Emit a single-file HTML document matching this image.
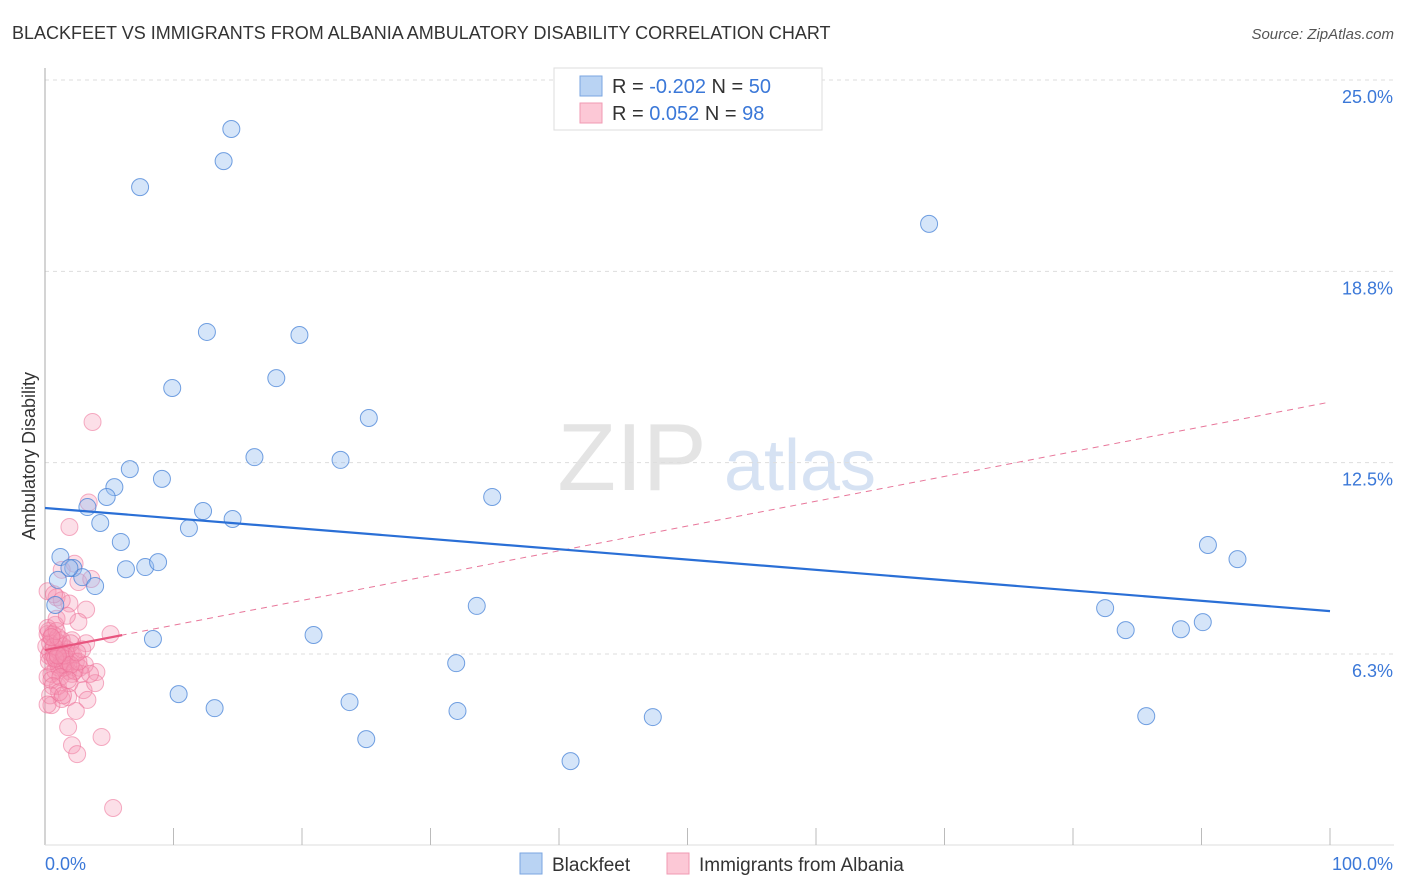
<!DOCTYPE html>
<html><head><meta charset="utf-8"><style>
html,body{margin:0;padding:0;background:#fff;width:1406px;height:892px;overflow:hidden;font-family:"Liberation Sans",sans-serif}
svg text{font-family:"Liberation Sans",sans-serif}
</style></head><body>
<svg id="chart" width="1406" height="892" xmlns="http://www.w3.org/2000/svg">
<text x="12" y="39" font-size="18" fill="#333">BLACKFEET VS IMMIGRANTS FROM ALBANIA AMBULATORY DISABILITY CORRELATION CHART</text>
<text x="1394" y="39" font-size="15" fill="#555" font-style="italic" text-anchor="end">Source: ZipAtlas.com</text>
<g>
<text x="632" y="490" font-size="96" fill="#e4e4e4" font-family="Liberation Serif" text-anchor="middle">ZIP</text>
<text x="800" y="490" font-size="72" fill="#d6e2f3" text-anchor="middle">atlas</text>
</g>
<g id="grid"></g>
<g id="axes"></g>
<g id="trends"></g>
<g id="points"></g>
<text transform="translate(35,456) rotate(-90)" font-size="18" fill="#333" text-anchor="middle">Ambulatory Disability</text>
<g>
<rect x="554" y="68" width="268" height="62" fill="#fff" stroke="#ddd"/>
<rect x="580" y="76" width="22" height="20" fill="#b9d3f3" stroke="#7aa6e0"/>
<rect x="580" y="103" width="22" height="20" fill="#fcc8d6" stroke="#f09ab3"/>
<text x="612" y="93" font-size="20" fill="#333">R = <tspan fill="#3b78d8">-0.202</tspan>   N = <tspan fill="#3b78d8">50</tspan></text>
<text x="612" y="120" font-size="20" fill="#333">R =  <tspan fill="#3b78d8">0.052</tspan>   N = <tspan fill="#3b78d8">98</tspan></text>
</g>
<g>
<rect x="520" y="853" width="22" height="21" fill="#b9d3f3" stroke="#7aa6e0"/>
<text x="552" y="871" font-size="19" fill="#333">Blackfeet</text>
<rect x="667" y="853" width="22" height="21" fill="#fcc8d6" stroke="#f09ab3"/>
<text x="699" y="871" font-size="19" fill="#333">Immigrants from Albania</text>
</g>
</svg>
<script>
const yTicks=[6.3,12.5,18.8,25.0];
const yTickLabels=["6.3%","12.5%","18.8%","25.0%"];
const xTicks=[0,10,20,30,40,50,60,70,80,90,100];
const xEndLabels=["0.0%","100.0%"];
const blueX=[7.4,13.9,14.5,68.8,12.6,19.8,18.0,9.9,25.2,16.3,23.0,6.6,9.1,5.4,4.8,3.3,34.8,12.3,14.6,4.3,11.2,5.9,1.2,2.2,6.3,7.8,8.8,2.9,3.9,90.5,92.8,33.6,82.5,84.1,88.4,90.1,20.9,8.4,32.0,10.4,13.2,23.7,32.1,47.3,85.7,25.0,40.9,1.9,0.8,1.0];
const blueY=[21.5,22.35,23.4,20.3,16.77,16.67,15.26,14.94,13.96,12.68,12.59,12.29,11.97,11.70,11.38,11.05,11.38,10.92,10.66,10.53,10.36,9.91,9.42,9.06,9.02,9.09,9.25,8.76,8.47,9.81,9.35,7.82,7.75,7.03,7.06,7.29,6.87,6.74,5.95,4.94,4.48,4.68,4.39,4.19,4.22,3.47,2.75,9.06,7.85,8.67];
const pinkX=[3.7,3.4,1.9,2.3,1.3,2.6,0.2,0.9,1.9,3.2,0.8,2.6,5.1,2.1,3.2,4.0,3.0,3.3,1.8,2.4,1.3,0.5,1.8,4.4,2.1,2.5,5.3,3.9,1.0,
0.2,0.5,0.8,1.1,1.4,1.7,2.0,0.3,0.6,0.9,1.2,1.5,1.8,2.1,0.1,0.4,0.7,1.0,1.3,1.6,2.2,0.3,0.6,0.9,1.2,1.5,2.4,0.2,0.5,0.8,1.1,1.4,1.7,2.7,0.4,0.7,1.0,1.3,0.2,0.9,1.6,2.0,2.8,3.1,0.5,1.2,1.9,0.3,0.8,1.5,2.3,0.6,1.1,3.5,0.4,1.4,2.6,0.9,1.7,0.2,2.9,1.3,0.7,2.0,3.6,0.5,1.8,1.0,2.5];
const pinkY=[13.83,11.2,10.4,9.2,9.0,8.6,8.3,8.1,7.9,7.7,7.2,7.3,6.9,6.7,6.6,5.66,5.07,4.75,4.84,4.39,4.78,4.58,3.86,3.54,3.27,2.98,1.22,5.3,5.2,
6.9,6.8,6.7,6.6,6.5,6.4,6.3,6.2,6.1,6.0,5.9,5.8,5.7,5.6,6.5,6.3,6.2,6.1,6.0,5.9,6.2,7.0,6.9,6.4,6.3,6.1,6.0,5.5,5.6,5.7,5.8,5.9,6.0,5.8,6.6,6.5,6.8,6.7,7.1,7.0,6.3,6.6,5.6,5.9,5.4,5.5,5.3,6.0,6.1,6.2,5.7,5.2,5.0,5.6,4.9,4.9,6.0,7.4,7.5,4.6,6.4,8.0,8.2,5.9,8.7,6.8,5.4,6.2,6.3];
const blueTrend=[11.02,7.65];
const pinkTrend=[6.38,14.48];
const pinkSolidEnd=6;
const X0=45,X1=1330,Y25=80,Y625=654;
function xs(v){return X0+(X1-X0)*v/100;}
function ys(v){return Y25+(25-v)*(Y625-Y25)/18.75;}
const NS="http://www.w3.org/2000/svg";
function mk(tag,attrs,parent){const e=document.createElementNS(NS,tag);for(const k in attrs)e.setAttribute(k,attrs[k]);parent.appendChild(e);return e;}
const grid=document.getElementById('grid'),axes=document.getElementById('axes'),trends=document.getElementById('trends'),pts=document.getElementById('points');
yTicks.forEach((t,i)=>{
 const y=ys(t===25.0?25:(t===6.3?6.25:(t===18.8?18.75:t)));
 const l=mk('line',{x1:X0,x2:1394,y1:y,y2:y,stroke:'#ddd','stroke-dasharray':'4,4'},grid);
 
 
 const tx=mk('text',{x:1393,y:y+23,'font-size':18,fill:'#3b78d8','text-anchor':'end'},grid);
 tx.textContent=yTickLabels[i];
 
 
});
const ya=mk('line',{x1:X0,x2:X0,y1:68,y2:845,stroke:'#aaa'},axes);


const xa=mk('line',{x1:X0,x2:1394,y1:845,y2:845,stroke:'#ddd'},axes);


xTicks.forEach(t=>{if(t===0)return;
 const tk=mk('line',{x1:xs(t),x2:xs(t),y1:828,y2:845,stroke:'#bbb'},axes);
 
 
});
[0,100].forEach((t,i)=>{
 const tx=mk('text',{x:i?1393:45,y:870,'font-size':18,fill:'#3b78d8','text-anchor':i?'end':'start'},axes);
 tx.textContent=xEndLabels[i];
 
 
});
pinkX.forEach((x,i)=>{
 const c=mk('circle',{cx:xs(x),cy:ys(pinkY[i]),r:8.5,fill:'rgba(246,150,180,0.3)',stroke:'rgba(236,110,150,0.55)','stroke-width':1},pts);
 
 
});
blueX.forEach((x,i)=>{
 const c=mk('circle',{cx:xs(x),cy:ys(blueY[i]),r:8.5,fill:'rgba(150,190,240,0.4)',stroke:'rgba(70,130,215,0.75)','stroke-width':1},pts);
 
 
});
const bt=mk('line',{x1:xs(0),y1:ys(blueTrend[0]),x2:xs(100),y2:ys(blueTrend[1]),stroke:'#2a6fd6','stroke-width':2.2},pts);


const pd=mk('line',{x1:xs(0),y1:ys(pinkTrend[0]),x2:xs(100),y2:ys(pinkTrend[1]),stroke:'#e8769a','stroke-width':1,'stroke-dasharray':'6,5'},trends);


const pyE=pinkTrend[0]+(pinkTrend[1]-pinkTrend[0])*pinkSolidEnd/100;
const ps=mk('line',{x1:xs(0),y1:ys(pinkTrend[0]),x2:xs(pinkSolidEnd),y2:ys(pyE),stroke:'#e8557f','stroke-width':2.2},pts);


</script>
</body></html>
